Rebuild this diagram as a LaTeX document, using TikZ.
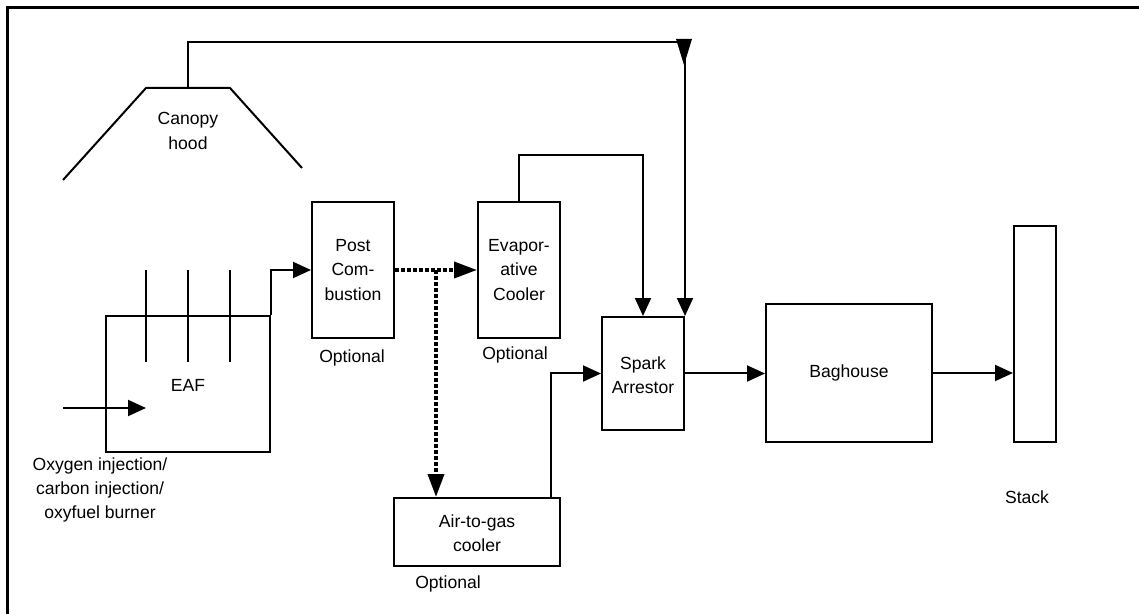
\documentclass[tikz,border=0pt]{standalone}
\usepackage{fontspec}
\setmainfont{Liberation Sans}
\usetikzlibrary{arrows.meta,fit}
\newcommand\diaglbl{\fontsize{10}{13.9}\selectfont}
\begin{document}
\begin{tikzpicture}[x=0.02cm,y=-0.02cm,
  line/.style={line width=0.04cm},
  box/.style={draw, line width=0.04cm, inner sep=0pt},
  arr/.style={line, -{Triangle[length=0.36cm,width=0.32cm]}},
  dotarr/.style={line width=0.075cm, dash pattern=on 0.08cm off 0.04cm, -{Triangle[length=0.46cm,width=0.32cm]}},
  lbl/.style={align=center, font=\diaglbl, inner sep=0pt}]
\useasboundingbox (0,0) rectangle (1139,614);
% frame
\draw[line width=0.06cm] (7.5,614) -- (7.5,7.5) -- (1139,7.5);

% boxes
\node[box, fit={(312,202) (394,338)}] (pc) {};
\node[box, fit={(478,202) (560,338)}] (evap) {};
\node[box, fit={(602,317) (684,430)}] (spark) {};
\node[box, fit={(394,498) (560,566)}] (atg) {};
\node[box, fit={(106,316) (270,452)}] (eaf) {};
\node[box, fit={(766,304) (932,442)}] (bag) {};
\node[box, fit={(1014,226) (1056,442)}] (stack) {};

% box texts
\node[lbl] (pctext) at (353,270) {Post\\Com-\\bustion};
\node[lbl] (evaptext) at (519,270) {Evapor-\\ative\\Cooler};
\node[lbl] (sparktext) at (643,375) {Spark\\Arrestor};
\node[lbl] (atgtext) at (477,533) {Air-to-gas\\cooler};
\node[lbl] (eaftext) at (188,385) {EAF};
\node[lbl] (bagtext) at (849,373) {Baghouse};

% canopy hood
\draw[line] (63,180) -- (146,88) -- (230,88) -- (302,168);
\node[lbl] (hoodlbl) at (188,131) {Canopy\\hood};
\coordinate (hoodtop) at (188,88);

% electrodes
\foreach \x in {146,188,230} \draw[line] (\x,270) -- (\x,362);

% labels
\node[lbl] (opt1) at (352,358) {Optional};
\node[lbl] (opt2) at (515,355) {Optional};
\node[lbl] (opt3) at (448,584) {Optional};
\node[lbl] (stacklbl) at (1027,497) {Stack};
\node[lbl] (injlbl) at (100,490) {Oxygen injection/\\carbon injection/\\oxyfuel burner};

% connectors
\coordinate (inj) at (63,408);
\draw[arr] (inj) -- (146,408);
\draw[arr] (eaf.north east) |- (pc.west);
\draw[dotarr] (pc.east) -- (evap.west);
\coordinate (br) at (436,270);
\draw[dotarr] (br) -- (br |- atg.north);
\draw[arr] (evap.north) -- ++(0,-46) -| (spark.north);
\draw[arr] (hoodtop) -- (188,42.5) -| (spark.north east);
\fill (676,39) -- (692,39) -- (684,65) -- cycle;
\coordinate (atgout) at (551,498);
\draw[arr] (atgout) |- (spark.west);
\draw[arr] (spark.east) -- (spark.east -| bag.west);
\draw[arr] (bag.east) -- (bag.east -| stack.west);
\end{tikzpicture}
\end{document}
